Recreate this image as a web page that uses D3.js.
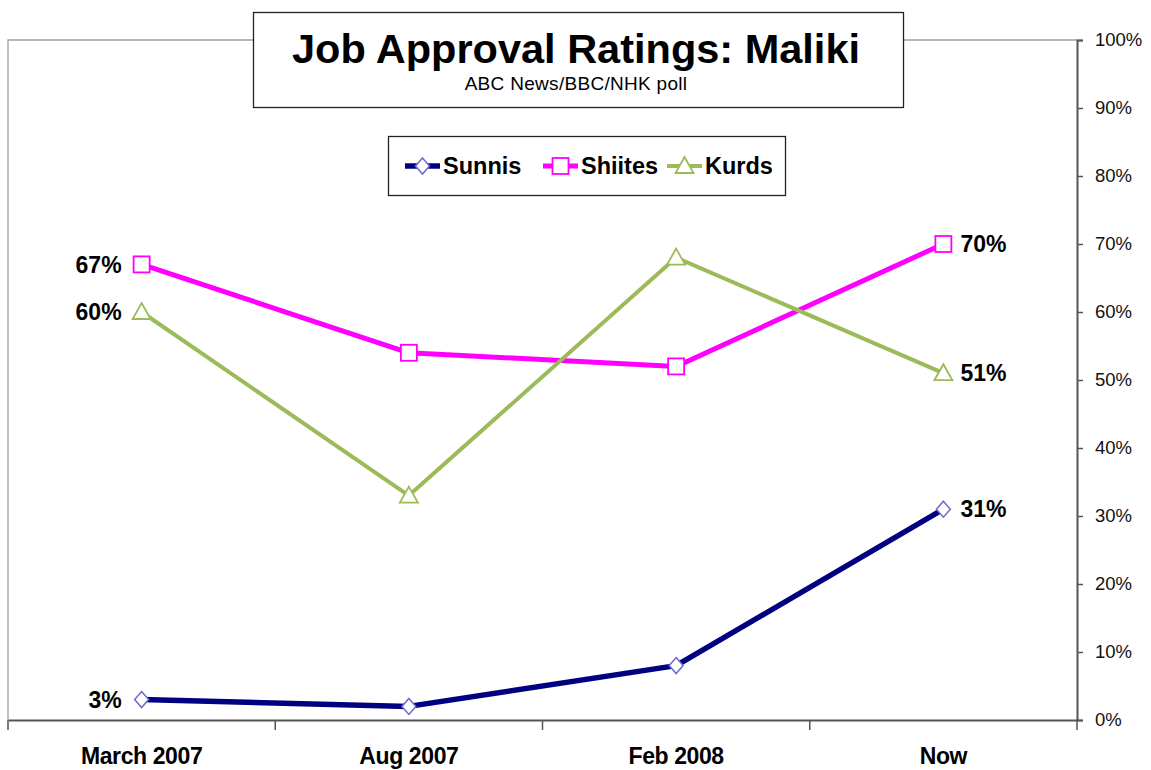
<!DOCTYPE html>
<html><head><meta charset="utf-8">
<script src="https://cdn.jsdelivr.net/npm/d3@7"></script>
<style>body{margin:0;background:#fff;} svg{display:block;font-family:"Liberation Sans",Arial,sans-serif;}</style>
</head><body>
<script>
const categories = ["March 2007","Aug 2007","Feb 2008","Now"];
const sunnis  = [3, 2, 8, 31];
const shiites = [67, 54, 52, 70];
const kurds   = [60, 33, 68, 51];
const yTicks = [0,10,20,30,40,50,60,70,80,90,100];
const seriesNames = ["Sunnis","Shiites","Kurds"];
const titleText = "Job Approval Ratings: Maliki";
const subtitleText = "ABC News/BBC/NHK poll";

const W = 1151, H = 770;
const svg = d3.select("body").append("svg").attr("width", W).attr("height", H);
const L = 8, R = 1077, T = 40, B = 720;
const x = d3.scaleBand().domain(categories).range([L, R]);
const y = d3.scaleLinear().domain([0, 100]).range([B, T]);
const cx = c => x(c) + x.bandwidth()/2;

// plot frame (top & left)
svg.append("path").attr("d", `M${L},${B}V${T}H${R}`).attr("fill","none").attr("stroke","#a0a0a0").attr("stroke-width",1.3);

// right axis
const ya = svg.append("g").attr("transform", `translate(${R},0)`)
  .call(d3.axisRight(y).tickValues(yTicks).tickFormat(d => d + "%").tickSize(6).tickPadding(12));
ya.select(".domain").attr("stroke","#555").attr("stroke-width",2);
ya.selectAll(".tick line").attr("stroke","#555").attr("stroke-width",1.5);
ya.selectAll(".tick text").attr("font-size",18.5).attr("fill","#111").attr("font-family","Liberation Sans, Arial, sans-serif");

// bottom axis
const xa = svg.append("g").attr("transform", `translate(0,${B})`)
  .call(d3.axisBottom(x).tickSize(0).tickPadding(28));
xa.select(".domain").attr("stroke","#555").attr("stroke-width",2);
xa.selectAll(".tick text").attr("font-size",23).attr("font-weight","bold").attr("fill","#000")
  .attr("font-family","Liberation Sans, Arial, sans-serif").attr("letter-spacing","-0.4px");
const bounds = categories.map(c => x(c)).concat([R]);
svg.append("g").selectAll("line").data(bounds).join("line")
  .attr("x1", d=>d).attr("x2", d=>d).attr("y1", B).attr("y2", B+10)
  .attr("stroke","#555").attr("stroke-width",1.5);

const series = [
  {name: seriesNames[0], vals: sunnis, color: "#000080", w: 5.5, mk: "diamond", mkStroke: "#6a6ad0"},
  {name: seriesNames[1], vals: shiites, color: "#ff00ff", w: 5, mk: "square", mkStroke: "#ff00ff"},
  {name: seriesNames[2], vals: kurds, color: "#9bbb59", w: 4, mk: "triangle", mkStroke: "#9bbb59"}
];
const line = d3.line().x((d,i) => cx(categories[i])).y(d => y(d));

function marker(g, type, stroke, px, py) {
  if (type === "diamond") {
    g.append("path").attr("d", `M${px},${py-8}L${px+7},${py}L${px},${py+8}L${px-7},${py}Z`)
      .attr("fill","#fff").attr("stroke",stroke).attr("stroke-width",1.5);
  } else if (type === "square") {
    g.append("rect").attr("x",px-8).attr("y",py-8).attr("width",16).attr("height",16)
      .attr("fill","#fff").attr("stroke",stroke).attr("stroke-width",1.8);
  } else {
    g.append("path").attr("d", `M${px},${py-9}L${px+9},${py+7}L${px-9},${py+7}Z`)
      .attr("fill","#fff").attr("stroke",stroke).attr("stroke-width",1.8);
  }
}

series.forEach(s => {
  svg.append("path").datum(s.vals).attr("d", line).attr("fill","none")
    .attr("stroke", s.color).attr("stroke-width", s.w).attr("stroke-linejoin","round");
});
series.forEach(s => {
  const g = svg.append("g");
  s.vals.forEach((v,i) => marker(g, s.mk, s.mkStroke, cx(categories[i]), y(v)));
});

// data labels at ends
const lab = svg.append("g").attr("font-size",23).attr("font-weight","bold").attr("fill","#000");
series.forEach(s => {
  lab.append("text").attr("x", cx(categories[0]) - 20).attr("y", y(s.vals[0])).attr("dy","0.36em")
    .attr("text-anchor","end").text(s.vals[0] + "%");
  lab.append("text").attr("x", cx(categories[3]) + 17).attr("y", y(s.vals[3])).attr("dy","0.36em")
    .attr("text-anchor","start").text(s.vals[3] + "%");
});

// title box
svg.append("rect").attr("x",253.5).attr("y",12.5).attr("width",650).attr("height",95)
  .attr("fill","#fff").attr("stroke","#222").attr("stroke-width",1.3);
svg.append("text").attr("x",576).attr("y",63).attr("text-anchor","middle")
  .attr("font-size",41.5).attr("font-weight","bold").text(titleText);
svg.append("text").attr("x",576).attr("y",90).attr("text-anchor","middle")
  .attr("font-size",19).attr("letter-spacing","0.3px").text(subtitleText);

// legend
svg.append("rect").attr("x",388.5).attr("y",136.5).attr("width",397).attr("height",59)
  .attr("fill","#fff").attr("stroke","#222").attr("stroke-width",1.3);
const legX = [405, 543, 667];
series.forEach((s,i) => {
  const g = svg.append("g");
  const ly = 166;
  g.append("line").attr("x1",legX[i]).attr("x2",legX[i]+35).attr("y1",ly).attr("y2",ly)
    .attr("stroke",s.color).attr("stroke-width",s.w);
  marker(g, s.mk, s.mkStroke, legX[i]+17.5, ly);
  g.append("text").attr("x",legX[i]+38).attr("y",ly).attr("dy","0.36em")
    .attr("font-size",23.5).attr("font-weight","bold").text(s.name);
});
</script>
</body></html>
